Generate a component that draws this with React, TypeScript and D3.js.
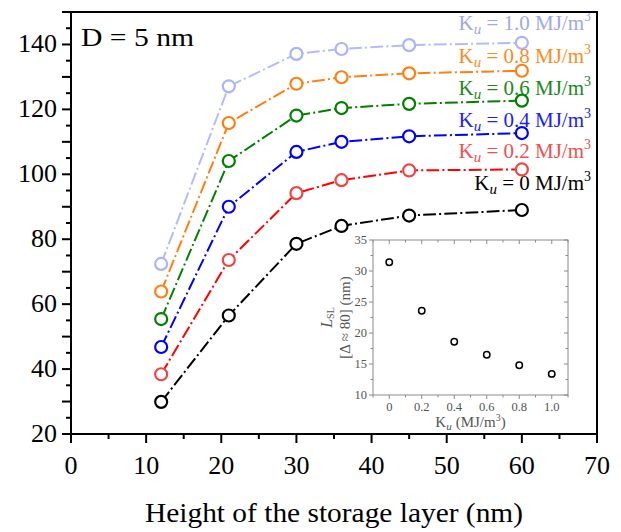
import React from "react";
import * as d3 from "d3";

const heights = [12, 21, 30, 36, 45, 60];
const series0 = [29.9, 56.5, 78.6, 84.1, 87.3, 89.0];
const series02 = [38.4, 73.6, 94.2, 98.2, 101.2, 101.5];
const series04 = [46.8, 90.0, 106.9, 110.0, 111.7, 112.7];
const series06 = [55.4, 104.1, 118.1, 120.4, 121.7, 122.7];
const series08 = [63.9, 115.8, 127.9, 129.9, 131.1, 131.9];
const series10 = [72.4, 127.1, 137.1, 138.6, 139.8, 140.5];

const insetKu = [0, 0.2, 0.4, 0.6, 0.8, 1.0];
const insetLsl = [31.4, 23.6, 18.6, 16.5, 14.8, 13.4];

const xTicks = [0, 10, 20, 30, 40, 50, 60, 70];
const yTickLabels = [20, 40, 60, 80, 100, 120, 140];
const insetXTicks = [0, 0.2, 0.4, 0.6, 0.8, 1.0];
const insetYTicks = [10, 15, 20, 25, 30, 35];

const seriesList = [
  { ku: "0", values: series0, line: "#000000", marker: "#000000", text: "#000000" },
  { ku: "0.2", values: series02, line: "#ff0000", marker: "#ee4646", text: "#f05050" },
  { ku: "0.4", values: series04, line: "#0000ff", marker: "#0000ff", text: "#2020ff" },
  { ku: "0.6", values: series06, line: "#008000", marker: "#008000", text: "#1a8a1a" },
  { ku: "0.8", values: series08, line: "#ff7f0e", marker: "#ff7f0e", text: "#ff8c1a" },
  { ku: "1.0", values: series10, line: "#b4bcf8", marker: "#aab4f8", text: "#a0a8e8" },
];

const FONT = "'Liberation Serif', 'DejaVu Serif', serif";

export default function App() {
  const L = 71, R = 597, T = 12, B = 434;
  const x = d3.scaleLinear().domain([0, 70]).range([L, R]);
  const y = d3.scaleLinear().domain([20, 150]).range([B, T]);
  const line = d3
    .line<[number, number]>()
    .x((d) => x(d[0]))
    .y((d) => y(d[1]));

  const xMinor = d3.range(0, 71, 5);
  const yMinor = d3.range(20, 151, 5);

  // inset
  const iL = 373, iR = 568, iT = 240, iB = 395;
  const ix = d3.scaleLinear().domain([-0.1, 1.1]).range([iL, iR]);
  const iy = d3.scaleLinear().domain([10, 35]).range([iB, iT]);
  const ixMinor = d3.range(-0.1, 1.11, 0.1).map((v) => Math.round(v * 10) / 10);
  const iyMinor = d3.range(10, 35.1, 2.5);
  const grey = "#8a8a8a";
  const greyText = "#555555";

  const legendY = [190, 158, 127, 95, 63, 30];

  return (
    <svg
      width={621}
      height={532}
      style={{ position: "absolute", left: 0, top: 0, background: "#fff" }}
      fontFamily={FONT}
    >
      <rect x={0} y={0} width={621} height={532} fill="#fff" />

      {/* series lines */}
      {seriesList.map((s, i) => (
        <path
          key={"l" + i}
          d={line(heights.map((h, j) => [h, s.values[j]] as [number, number])) || ""}
          fill="none"
          stroke={s.line}
          strokeWidth={2}
          strokeDasharray="12.8,3.2,2,3.2"
        />
      ))}
      {/* markers */}
      {seriesList.map((s, i) =>
        heights.map((h, j) => (
          <circle
            key={"m" + i + "-" + j}
            cx={x(h)}
            cy={y(s.values[j])}
            r={6}
            fill="#fff"
            stroke={s.marker}
            strokeWidth={2.2}
          />
        ))
      )}

      {/* legend texts */}
      {seriesList.map((s, i) => (
        <text
          key={"t" + i}
          x={591}
          y={legendY[i]}
          textAnchor="end"
          fontSize={21}
          fill={s.text}
        >
          <tspan>K</tspan>
          <tspan fontStyle="italic" fontSize={15} dy={4}>u</tspan>
          <tspan dy={-4}>{"\u00a0= " + s.ku + " MJ/m"}</tspan>
          <tspan fontSize={14} dy={-9}>3</tspan>
        </text>
      ))}

      {/* D = 5 nm */}
      <text x={81} y={46} fontSize={26} fill="#000" textLength={113} lengthAdjust="spacingAndGlyphs">
        D = 5 nm
      </text>

      {/* inset */}
      <rect x={iL} y={iT} width={iR - iL} height={iB - iT} fill="#fff" stroke={grey} strokeWidth={1} />
      {ixMinor.map((v, i) => {
        const major = insetXTicks.some((t) => Math.abs(t - v) < 1e-6);
        const len = major ? 4 : 2.5;
        return (
          <g key={"ixt" + i}>
            <line x1={ix(v)} x2={ix(v)} y1={iB} y2={iB + len} stroke={grey} strokeWidth={1} />
            <line x1={ix(v)} x2={ix(v)} y1={iT} y2={iT + len} stroke={grey} strokeWidth={1} />
          </g>
        );
      })}
      {iyMinor.map((v, i) => {
        const major = insetYTicks.includes(v);
        const len = major ? 4 : 2.5;
        return (
          <g key={"iyt" + i}>
            <line x1={iL - len} x2={iL} y1={iy(v)} y2={iy(v)} stroke={grey} strokeWidth={1} />
            <line x1={iR - len} x2={iR} y1={iy(v)} y2={iy(v)} stroke={grey} strokeWidth={1} />
          </g>
        );
      })}
      {insetXTicks.map((v, i) => (
        <text key={"ixl" + i} x={ix(v)} y={iB + 16} textAnchor="middle" fontSize={12.5} fill={greyText}>
          {v === 0 ? "0" : v.toFixed(1)}
        </text>
      ))}
      {insetYTicks.map((v, i) => (
        <text key={"iyl" + i} x={iL - 6} y={iy(v) + 4} textAnchor="end" fontSize={12.5} fill={greyText}>
          {v}
        </text>
      ))}
      <text x={(iL + iR) / 2} y={iB + 32} textAnchor="middle" fontSize={15} fill={greyText}>
        <tspan>K</tspan>
        <tspan fontStyle="italic" fontSize={11} dy={3}>u</tspan>
        <tspan dy={-3} dx={4}>(MJ/m</tspan>
        <tspan fontSize={10} dy={-6}>3</tspan>
        <tspan dy={6}>)</tspan>
      </text>
      <g transform={`translate(332, ${(iT + iB) / 2}) rotate(-90)`}>
        <text x={0} y={0} textAnchor="middle" fontSize={16} fill={greyText}>
          <tspan fontStyle="italic">L</tspan>
          <tspan fontSize={10} dy={2}>SL</tspan>
        </text>
      </g>
      <g transform={`translate(350, ${(iT + iB) / 2}) rotate(-90)`}>
        <text x={0} y={0} textAnchor="middle" fontSize={15} fill={greyText}>
          [Δ ≈ 80] (nm)
        </text>
      </g>
      {insetKu.map((k, i) => (
        <circle
          key={"ic" + i}
          cx={ix(k)}
          cy={iy(insetLsl[i])}
          r={3.2}
          fill="none"
          stroke="#000"
          strokeWidth={1.5}
        />
      ))}

      {/* main frame */}
      <rect x={L} y={T} width={R - L} height={B - T} fill="none" stroke="#000" strokeWidth={2} />

      {/* x ticks */}
      {xMinor.map((v, i) => {
        const major = v % 10 === 0;
        return (
          <line
            key={"xt" + i}
            x1={x(v)}
            x2={x(v)}
            y1={B}
            y2={B + (major ? 9 : 5)}
            stroke="#000"
            strokeWidth={2}
          />
        );
      })}
      {xTicks.map((v, i) => (
        <text key={"xl" + i} x={x(v)} y={B + 40} textAnchor="middle" fontSize={26} fill="#000">
          {v}
        </text>
      ))}

      {/* y ticks */}
      {yMinor.map((v, i) => {
        const major = v % 10 === 0;
        return (
          <line
            key={"yt" + i}
            x1={L - (major ? 9 : 5)}
            x2={L}
            y1={y(v)}
            y2={y(v)}
            stroke="#000"
            strokeWidth={2}
          />
        );
      })}
      {yTickLabels.map((v, i) => (
        <text key={"yl" + i} x={L - 14} y={y(v) + 8} textAnchor="end" fontSize={26} fill="#000">
          {v}
        </text>
      ))}

      {/* x title */}
      <text
        x={(L + R) / 2}
        y={522}
        textAnchor="middle"
        fontSize={27}
        fill="#000"
        textLength={378}
        lengthAdjust="spacingAndGlyphs"
      >
        Height of the storage layer (nm)
      </text>
    </svg>
  );
}
